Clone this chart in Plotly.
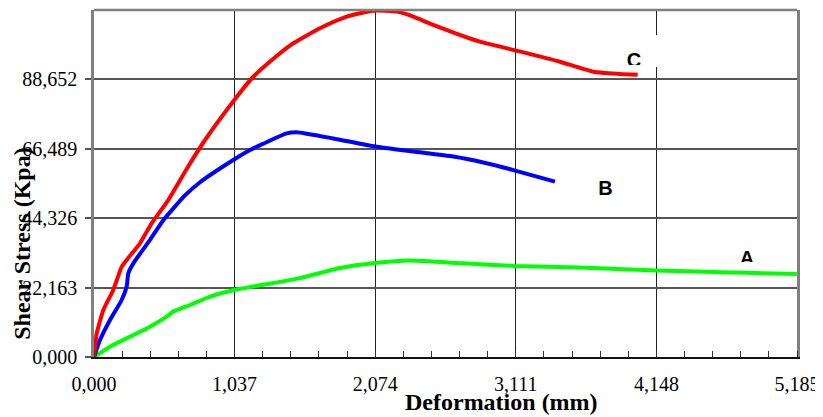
import plotly.graph_objects as go

# ---- data ----
c_x = [0, 0.02, 0.069, 0.142, 0.204, 0.241, 0.339, 0.425, 0.548, 0.68, 0.819, 1.035, 1.175, 1.372,
       1.470, 1.667, 1.864, 2.06, 2.233, 2.355, 2.478, 2.847, 3.14, 3.437, 3.683, 3.88, 4.01]
c_y = [0, 7.5, 15.0, 21.4, 28.8, 31.0, 36.3, 42.7, 50.1, 59.8, 69.3, 82.1, 89.5, 97.0,
       100.2, 105.0, 108.7, 110.6, 110.3, 108.7, 106.5, 100.7, 97.6, 94.3, 91.1, 90.4, 90.1]

b_x = [0, 0.044, 0.118, 0.204, 0.241, 0.253, 0.29, 0.413, 0.511, 0.671, 0.782, 1.027, 1.151,
       1.421, 1.495, 1.765, 2.073, 2.355, 2.65, 2.871, 3.093, 3.40]
b_y = [0, 5.4, 11.8, 18.2, 22.5, 26.7, 29.9, 37.4, 43.7, 51.6, 55.8, 62.9, 66.1,
       71.4, 71.8, 69.8, 67.2, 65.6, 64.0, 62.1, 59.7, 56.0]

a_x = [0, 0.118, 0.266, 0.413, 0.536, 0.585, 0.708, 0.856, 1.033, 1.519, 1.814, 2.07, 2.33,
       2.724, 3.093, 3.585, 4.15, 4.445, 4.814, 5.183]
a_y = [0, 3.3, 6.5, 9.7, 12.9, 14.5, 16.6, 19.3, 21.4, 25.2, 28.4, 30.0, 30.8,
       29.9, 29.1, 28.6, 27.6, 27.3, 26.9, 26.5]

x_ticks = [0, 1.037, 2.074, 3.111, 4.148, 5.185]
x_ticktext = ["0,000", "1,037", "2,074", "3,111", "4,148", "5,185"]
y_ticks = [0, 22.163, 44.326, 66.489, 88.652]
y_ticktext = ["0,000", "22,163", "44,326", "66,489", "88,652"]

series_labels = ["A", "B", "C"]
label_x = [4.816, 3.773, 3.983]
label_y = [30.86, 53.46, 94.06]

fig = go.Figure()
for xs, ys, col in [(a_x, a_y, "#00FF00"), (b_x, b_y, "#0000FF"), (c_x, c_y, "#FF0000")]:
    fig.add_trace(go.Scatter(x=xs, y=ys, mode="lines",
                             line=dict(color=col, width=4, shape="spline", smoothing=0.5),
                             cliponaxis=False, showlegend=False, hoverinfo="skip"))

fig.add_trace(go.Scatter(x=label_x, y=label_y, mode="text", text=series_labels,
                         textposition="middle center",
                         textfont=dict(family="Liberation Sans", size=20, color="black",
                                       weight="bold"),
                         showlegend=False, hoverinfo="skip"))

serif = "Liberation Serif"
# the page body has an 8px margin, so the figure is 8px smaller than the window
fig.update_layout(
    width=815, height=409,
    margin=dict(l=86, r=26, t=2, b=60, autoexpand=False),
    paper_bgcolor="white", plot_bgcolor="white",
    font=dict(family=serif, size=20, color="black"),
    xaxis=dict(range=[0, 5.185], tickvals=x_ticks, ticktext=x_ticktext, automargin=False,
               showgrid=True, gridcolor="#222222", gridwidth=1,
               showline=True, linecolor="#111111", linewidth=2,
               ticks="", ticklabelstandoff=8, zeroline=False,
               tickfont=dict(family=serif, size=20, color="black"),
               minor=dict(tick0=0, dtick=1.037 / 5, ticks="inside", ticklen=6,
                          tickcolor="#333333", tickwidth=1, showgrid=False)),
    yaxis=dict(range=[0, 110.815], tickvals=y_ticks, ticktext=y_ticktext, automargin=False,
               showgrid=True, gridcolor="#555555", gridwidth=1.5,
               showline=True, linecolor="#808080", linewidth=2.5, mirror=True,
               ticks="outside", ticklen=6, tickcolor="#555555", tickwidth=1.5,
               ticklabelstandoff=4, zeroline=False,
               tickfont=dict(family=serif, size=20, color="black")),
    shapes=[
        # top frame
        dict(type="line", xref="paper", yref="paper", x0=0, x1=1, y0=1, y1=1,
             line=dict(color="#808080", width=2.5), layer="above"),
        # white text box behind the C label (hides the gridline)
        dict(type="rect", xref="x", yref="y", x0=4.10, x1=4.20, y0=92.6, y1=102.8,
             fillcolor="white", line=dict(width=0), layer="above"),
        # clipped bottoms of C and A labels
        dict(type="rect", xref="x", yref="y", x0=3.90, x1=4.07, y0=91.4, y1=93.25,
             fillcolor="white", line=dict(width=0), layer="above"),
        dict(type="rect", xref="x", yref="y", x0=4.75, x1=4.88, y0=28.4, y1=30.34,
             fillcolor="white", line=dict(width=0), layer="above"),
    ],
    annotations=[
        dict(text="<b>Deformation (mm)</b>", xref="paper", yref="paper",
             x=0.580, y=-0.1297, xanchor="center", yanchor="middle", showarrow=False,
             font=dict(family=serif, size=24, color="black")),
        dict(text="<b>Shear Stress (Kpa)</b>", xref="paper", yref="paper",
             x=-0.1027, y=0.3256, xanchor="center", yanchor="middle", showarrow=False,
             textangle=-90, font=dict(family=serif, size=24, color="black")),
    ],
)

fig.write_html("out.html")
